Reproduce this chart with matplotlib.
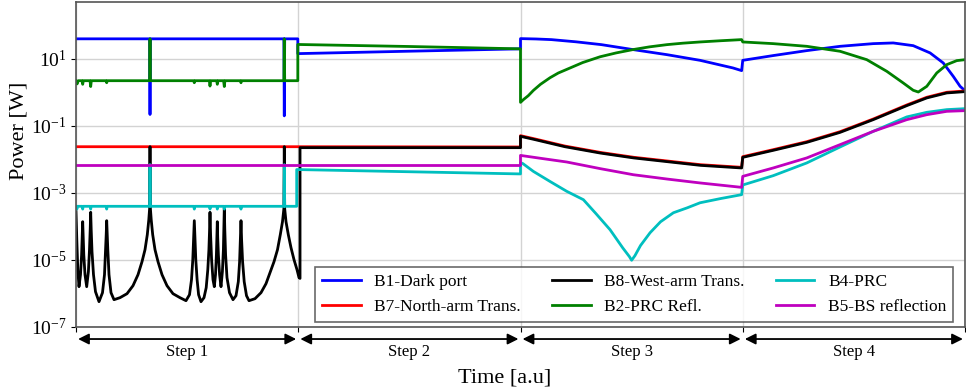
import matplotlib
matplotlib.use("Agg")
import matplotlib.pyplot as plt
import numpy as np

plt.rcParams["font.family"] = ["Liberation Serif", "DejaVu Serif"]
plt.rcParams["mathtext.fontset"] = "stix"

# ---- time axis (arbitrary units, one unit per lock step) ----
step_bounds = [0.0, 1.0, 2.0, 3.0, 4.0]
step_labels = ["Step 1", "Step 2", "Step 3", "Step 4"]

# ---- B1: dark port [W] ----
b1_t = [0.0, 0.331, 0.333, 0.335, 0.9354, 0.9372, 0.939, 0.998, 0.998, 1.5, 2.0,
        2.0, 2.07, 2.139, 2.25, 2.364, 2.506, 2.659, 2.808, 2.956, 2.995,
        3.0, 3.137, 3.288, 3.438, 3.587, 3.677, 3.767, 3.843, 3.902, 3.947, 3.978, 4.0]
b1_p = [39.8, 39.8, 0.22, 39.8, 39.8, 0.20, 39.8, 39.8, 14.4, 17.0, 20.0,
        40.4, 39.4, 37.7, 32.4, 26.7, 19.0, 13.4, 9.08, 5.38, 4.48,
        9.08, 12.6, 17.7, 23.8, 28.6, 30.0, 24.9, 15.1, 7.6, 3.03, 1.52, 1.13]

# ---- B7: north-arm transmission [W] ----
b7_t = [0.0, 1.008, 2.0, 2.0, 2.06, 2.2, 2.36, 2.51, 2.66, 2.81, 2.995,
        3.0, 3.137, 3.288, 3.438, 3.587, 3.738, 3.828, 3.918, 4.0]
b7_p = [0.0240, 0.0240, 0.0236, 0.0513, 0.0417, 0.0251, 0.0162, 0.0116, 0.0090, 0.00698, 0.00583,
        0.0121, 0.0196, 0.0339, 0.0675, 0.161, 0.423, 0.718, 1.012, 1.107]

# ---- B8: west-arm transmission [log10 W] ----
b8_t = [0.0, 0.0036, 0.0081, 0.0135, 0.0202, 0.0252, 0.0279, 0.0301, 0.0324, 0.0351,
        0.0405, 0.0481, 0.0558, 0.0607, 0.0639, 0.0661, 0.0684, 0.0720, 0.0787, 0.0877,
        0.1035, 0.1192, 0.1282, 0.1332, 0.1359, 0.1381, 0.1404, 0.1431, 0.1485, 0.1575,
        0.1710, 0.1980, 0.2295, 0.2565, 0.2790, 0.2970, 0.3105, 0.3208, 0.3276, 0.3312,
        0.3330, 0.3348, 0.3384, 0.3451, 0.3555, 0.3690, 0.3870, 0.4094, 0.4364, 0.4679,
        0.4949, 0.5107, 0.5197, 0.5255, 0.5291, 0.5323, 0.5354, 0.5390, 0.5449, 0.5516,
        0.5624, 0.5759, 0.5858, 0.5930, 0.5980, 0.6007, 0.6029, 0.6056, 0.6101, 0.6164,
        0.6223, 0.6277, 0.6317, 0.6340, 0.6358, 0.6376, 0.6407, 0.6461, 0.6524, 0.6587,
        0.6632, 0.6655, 0.6673, 0.6695, 0.6731, 0.6794, 0.6907, 0.7064, 0.7199, 0.7303,
        0.7361, 0.7397, 0.7424, 0.7451, 0.7496, 0.7568, 0.7672, 0.7784, 0.8054, 0.8324,
        0.8549, 0.8729, 0.8909, 0.9066, 0.9192, 0.9291, 0.9354, 0.9372, 0.9390, 0.9449,
        0.9553, 0.9674, 0.9809, 0.9944, 1.0034, 1.008,
        1.008, 2.0, 2.0, 2.06, 2.2, 2.36, 2.51, 2.66, 2.81, 2.995,
        3.0, 3.137, 3.288, 3.438, 3.587, 3.738, 3.828, 3.918, 4.0]
b8_log10 = [-3.558, -4.394, -5.290, -5.797, -5.439, -4.848, -4.334, -3.857, -4.334, -4.848,
            -5.439, -5.797, -5.349, -4.693, -4.096, -3.576, -4.096, -4.752, -5.439, -5.946,
            -6.245, -5.976, -5.439, -4.693, -4.245, -3.827, -4.245, -4.693, -5.439, -5.976,
            -6.185, -6.125, -6.006, -5.767, -5.439, -5.051, -4.693, -4.245, -3.797, -3.469,
            -1.618, -3.469, -3.797, -4.245, -4.693, -5.051, -5.439, -5.767, -6.006, -6.125,
            -6.215, -6.036, -5.588, -4.991, -4.394, -3.827, -4.394, -4.991, -5.588, -6.036,
            -6.245, -6.125, -5.827, -5.290, -4.693, -4.155, -3.576, -4.245, -4.991, -5.588,
            -5.797, -5.439, -4.848, -4.334, -3.857, -4.334, -4.848, -5.439, -5.797, -5.349,
            -4.693, -4.036, -3.439, -4.096, -4.848, -5.528, -5.976, -6.185, -6.066, -5.648,
            -5.051, -4.394, -3.827, -4.394, -5.051, -5.648, -6.066, -6.215, -6.155, -5.976,
            -5.707, -5.379, -5.051, -4.693, -4.245, -3.857, -3.469, -1.618, -3.469, -3.857,
            -4.245, -4.633, -4.991, -5.290, -5.528, -5.550,
            -1.648, -1.648, -1.310, -1.400, -1.620, -1.810, -1.955, -2.066, -2.176, -2.254,
            -1.937, -1.728, -1.490, -1.191, -0.812, -0.394, -0.164, -0.015, 0.024]

# ---- B2: PRC reflection [W] ----
b2_t = [0.0, 0.005, 0.010, 0.027, 0.0301, 0.033, 0.063, 0.0661, 0.069, 0.135, 0.1381, 0.141,
        0.331, 0.333, 0.335, 0.529, 0.5323, 0.535, 0.600, 0.6029, 0.606, 0.633, 0.6358, 0.639,
        0.664, 0.6673, 0.670, 0.739, 0.7424, 0.745, 0.9354, 0.9372, 0.939, 0.998, 0.998,
        1.5, 2.0,
        2.0, 2.013, 2.035, 2.058, 2.09, 2.133, 2.17, 2.209, 2.28, 2.358, 2.43, 2.506, 2.58,
        2.659, 2.73, 2.808, 2.9, 2.995,
        3.0, 3.137, 3.288, 3.438, 3.558, 3.648, 3.722, 3.767, 3.790, 3.828, 3.873, 3.918, 3.963, 4.0]
b2_p = [2.24, 1.8, 2.24, 2.24, 1.75, 2.24, 2.24, 1.5, 2.24, 2.24, 1.95, 2.24,
        2.24, 39.8, 2.24, 2.24, 1.95, 2.24, 2.24, 1.55, 2.24, 2.24, 1.75, 2.24,
        2.24, 1.5, 2.24, 2.24, 1.95, 2.24, 2.24, 39.8, 2.24, 2.24, 27.0,
        23.5, 20.0,
        0.506, 0.61, 0.80, 1.15, 1.75, 2.75, 3.8, 4.9, 7.8, 11.6, 15.1, 19.0, 22.9,
        26.7, 29.5, 32.1, 34.9, 37.7,
        32.1, 28.6, 23.8, 16.9, 9.5, 4.27, 1.92, 1.16, 1.03, 1.52, 3.82, 6.76, 8.9, 9.5]

# ---- B4: PRC circulating [W] ----
b4_t = [0.0, 0.002, 0.004, 0.006, 0.028, 0.0301, 0.032, 0.064, 0.0661, 0.068,
        0.136, 0.1381, 0.140, 0.331, 0.333, 0.335, 0.530, 0.5323, 0.534, 0.601, 0.6029, 0.605,
        0.634, 0.6358, 0.638, 0.665, 0.6673, 0.669, 0.740, 0.7424, 0.744, 0.9354, 0.9372, 0.939,
        0.993, 0.993, 2.0,
        2.0, 2.011, 2.058, 2.133, 2.208, 2.283, 2.34, 2.403, 2.46, 2.49, 2.500, 2.515, 2.54,
        2.583, 2.63, 2.688, 2.75, 2.808, 2.9, 2.995,
        3.0, 3.137, 3.288, 3.438, 3.587, 3.738, 3.828, 3.918, 4.0]
b4_p = [4.0e-4, 4.0e-4, 3.3e-4, 4.0e-4, 4.0e-4, 3.3e-4, 4.0e-4, 4.0e-4, 3.3e-4, 4.0e-4,
        4.0e-4, 3.3e-4, 4.0e-4, 4.0e-4, 7.0e-3, 4.0e-4, 4.0e-4, 3.3e-4, 4.0e-4, 4.0e-4, 3.3e-4, 4.0e-4,
        4.0e-4, 3.3e-4, 4.0e-4, 4.0e-4, 3.3e-4, 4.0e-4, 4.0e-4, 3.3e-4, 4.0e-4, 4.0e-4, 7.0e-3, 4.0e-4,
        4.0e-4, 5.0e-3, 3.7e-3,
        8.0e-3, 7.5e-3, 4.4e-3, 2.2e-3, 1.12e-3, 6.3e-4, 2.4e-4, 8.0e-5, 2.3e-5, 1.26e-5, 9.8e-6,
        1.35e-5, 2.7e-5, 6.5e-5, 1.38e-4, 2.57e-4, 3.6e-4, 5.1e-4, 6.8e-4, 8.9e-4,
        1.73e-3, 3.28e-3, 7.87e-3, 0.0236, 0.069, 0.186, 0.255, 0.307, 0.328]

# ---- B5: beam-splitter reflection [W] ----
b5_t = [0.0, 2.0, 2.0, 2.1, 2.208, 2.36, 2.508, 2.66, 2.808, 2.995,
        3.0, 3.137, 3.288, 3.438, 3.587, 3.738, 3.828, 3.918, 4.0]
b5_p = [6.6e-3, 6.6e-3, 0.0132, 0.0106, 8.4e-3, 5.3e-3, 3.5e-3, 2.6e-3, 1.99e-3, 1.47e-3,
        3.13e-3, 5.57e-3, 0.0111, 0.0277, 0.069, 0.154, 0.217, 0.273, 0.286]

series = [
    ("B1-Dark port", b1_t, b1_p, "b"),
    ("B7-North-arm Trans.", b7_t, b7_p, "r"),
    ("B8-West-arm Trans.", b8_t, 10.0 ** np.asarray(b8_log10), "k"),
    ("B2-PRC Refl.", b2_t, b2_p, "g"),
    ("B4-PRC", b4_t, b4_p, "c"),
    ("B5-BS reflection", b5_t, b5_p, "m"),
]

fig = plt.figure(figsize=(9.66, 3.90), dpi=100)
ax = fig.add_axes([76 / 966, 63 / 390, 889 / 966, 325 / 390])

for label, t, p, col in series:
    ax.plot(t, p, color=col, lw=2.0, label=label)

ax.set_yscale("log")
ax.set_xlim(step_bounds[0], step_bounds[-1])
ax.set_ylim(1e-7, 5e2)
ax.set_yticks([1e-7, 1e-5, 1e-3, 1e-1, 1e1])
ax.yaxis.set_minor_locator(matplotlib.ticker.NullLocator())
ax.set_xticks(step_bounds)
ax.set_xticklabels([])
ax.tick_params(axis="y", labelsize=14)
ax.grid(True, color="#d3d3d3", lw=1.0)
for sp in ax.spines.values():
    sp.set_color("#555555")
    sp.set_linewidth(1.2)

# step arrows under the axis
for i, name in enumerate(step_labels):
    a, b = step_bounds[i], step_bounds[i + 1]
    ax.annotate("", xy=(a, -0.037), xytext=(b, -0.037),
                xycoords=("data", "axes fraction"), textcoords=("data", "axes fraction"),
                arrowprops=dict(arrowstyle="<|-|>", color="k", lw=1.3,
                                shrinkA=1.5, shrinkB=1.5, mutation_scale=16),
                annotation_clip=False)
    ax.text((a + b) / 2, -0.078, name, transform=ax.get_xaxis_transform(),
            ha="center", va="center", fontsize=12)

leg = ax.legend(ncol=3, loc="lower right", bbox_to_anchor=(0.987, 0.016),
                borderaxespad=0, fontsize=12.5, fancybox=False, edgecolor="#444444",
                handlelength=2.2, columnspacing=1.8)
leg.get_frame().set_linewidth(1.2)

fig.text(505 / 966, 1 - 378 / 390, "Time [a.u]", ha="center", va="center", fontsize=16)
fig.text(19 / 966, 1 - 131 / 390, "Power [W]", ha="center", va="center",
         rotation=90, fontsize=16)

fig.savefig("out.png", dpi=100)
